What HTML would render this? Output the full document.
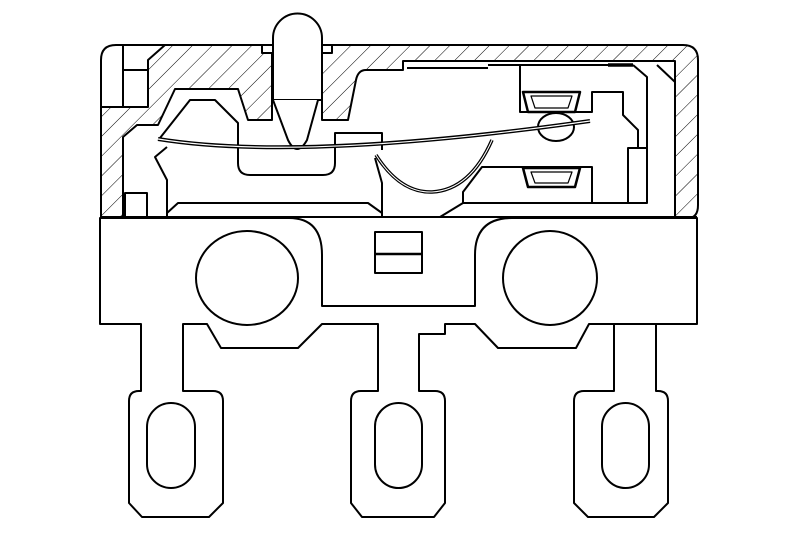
<!DOCTYPE html>
<html><head><meta charset="utf-8"><style>
html,body{margin:0;padding:0;background:#fff;}
svg{display:block;}
</style></head><body>
<svg width="800" height="533" viewBox="0 0 800 533" xmlns="http://www.w3.org/2000/svg">
<defs>
<pattern id="h" patternUnits="userSpaceOnUse" width="14" height="14" patternTransform="rotate(45)">
<line x1="0" y1="0" x2="0" y2="14" stroke="#000" stroke-width="1"/>
</pattern>
</defs>
<g fill="none" stroke="#000" stroke-width="2" stroke-linejoin="round">
<path d="M165,45 L262,45 L262,53 L272,53 L272,120 L248,120 L238,89 L175,89 L158,125 L137,125 L123,137 L123,217 L101,217 L101,107 L148,107 L148,60 Z" fill="url(#h)"/>
<path d="M322,53 L332,53 L332,45 L683,45 Q698,45 698,60 L698,205 Q698,218 688,218 L675,218 L675,61 L403,61 L403,70 L366,70 Q358,70 356,80 L348,120 L322,120 Z" fill="url(#h)"/>
<path d="M101,217 L101,60 Q101,45 116,45 L683,45"/>
<line x1="123" y1="45" x2="123" y2="107"/>
<line x1="123" y1="70" x2="148" y2="70"/>
<rect x="125" y="193" width="22" height="24"/>
<line x1="101" y1="217" x2="697" y2="217"/>
<path d="M273,100 L273,38 A24.5,24.5 0 0 1 322,38 L322,100 Z" fill="#fff"/>
<path d="M273,100 L288,140 Q297,158 307,140 L318,100" fill="#fff"/>
<path d="M160,138 L190,100 L215,100 L238,123 L238,163 Q238,175 250,175 L323,175 Q335,175 335,163 L335,133 L382,133 L382,150"/>
<path d="M167,147 L155,157 L167,180 L167,217"/>
<path d="M167,213 L178,203 L368,203 L382,213"/>
<path d="M375,158 L382,183 L382,217"/>
<ellipse cx="556" cy="127" rx="18" ry="14" fill="#fff"/>
<path d="M158,139 Q300,162 590,121" stroke-width="4"/>
<path d="M158,139 Q300,162 590,121" stroke="#fff" stroke-width="1.2"/>
<path d="M376,155 Q400,193 432,192 Q470,190 492,140" stroke-width="3.5"/>
<path d="M376,155 Q400,193 432,192 Q470,190 492,140" stroke="#fff" stroke-width="1"/>
<line x1="407" y1="68" x2="488" y2="68"/>
<line x1="488" y1="65" x2="633" y2="65"/>
<line x1="608" y1="65" x2="633" y2="65" stroke-width="3.5"/>
<path d="M633,65 L647,77 L647,203"/>
<path d="M657,65 L675,82"/>
<path d="M520,65 L520,112 L592,112 L592,92 L623,92 L623,115 L638,130 L638,148"/>
<rect x="628" y="148" width="19" height="55"/>
<path d="M523,92 L580,92 L575,112 L528,112 Z" stroke-width="2.5"/>
<path d="M531,96 L572,96 L568,108 L535,108 Z" stroke-width="1.2"/>
<path d="M523,168 L580,168 L575,187 L528,187 Z" stroke-width="2.5"/>
<path d="M531,172 L572,172 L568,183 L535,183 Z" stroke-width="1.2"/>
<path d="M463,203 L463,192 L482,167 L592,167 L592,203"/>
<line x1="463" y1="203" x2="647" y2="203"/>
<line x1="463" y1="203" x2="440" y2="217"/>
<path d="M100,218 L289,218 Q322,218 322,255 L322,306 L475,306 L475,255 Q475,218 512,218 L697,218 L697,324 L589,324 L576,348 L498,348 L475,324 L445,324 L445,334 L419,334 L419,391 L435,391 Q445,391 445,401 L445,503 L434,517 L362,517 L351,503 L351,401 Q351,391 361,391 L378,391 L378,324 L322,324 L298,348 L221,348 L207,324 L183,324 L183,391 L213,391 Q223,391 223,401 L223,503 L209,517 L142,517 L129,503 L129,401 Q129,391 139,391 L141,391 L141,324 L100,324 Z"/>
<path d="M614,324 L614,391 L584,391 Q574,391 574,401 L574,503 L588,517 L654,517 L668,503 L668,401 Q668,391 658,391 L656,391 L656,324"/>
<rect x="375" y="232" width="47" height="41"/>
<line x1="375" y1="254" x2="422" y2="254" stroke-width="2.5"/>
<ellipse cx="247" cy="278" rx="51" ry="47"/>
<ellipse cx="550" cy="278" rx="47" ry="47"/>
<rect x="147" y="403" width="48" height="85" rx="24"/>
<rect x="375" y="403" width="47" height="85" rx="23.5"/>
<rect x="602" y="403" width="47" height="85" rx="23.5"/>
</g>
</svg>
</body></html>
